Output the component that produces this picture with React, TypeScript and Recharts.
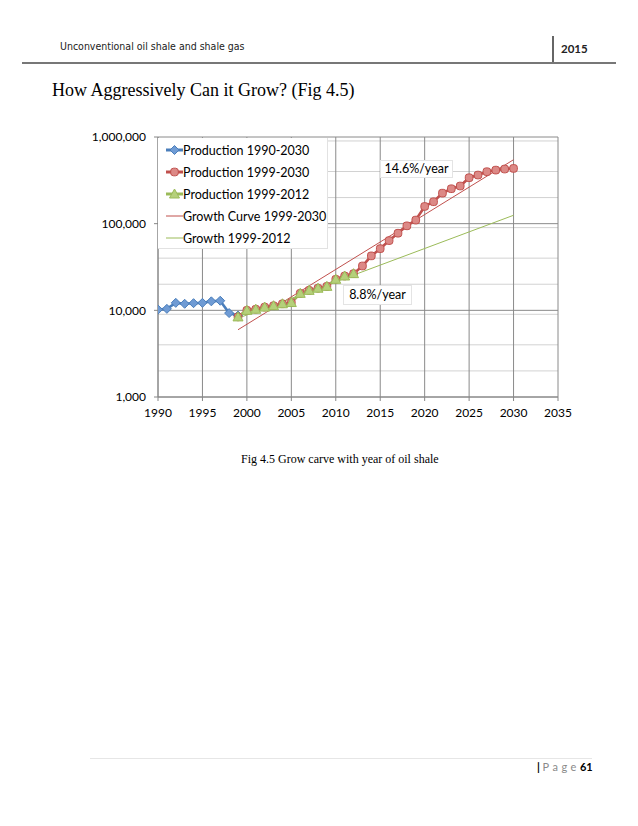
import { CartesianGrid, Line, LineChart, XAxis, YAxis } from 'recharts'

// tick values
const xTicks = [1990, 1995, 2000, 2005, 2010, 2015, 2020, 2025, 2030, 2035]
const yTicks = [1000, 10000, 100000, 1000000]
const yMinor = [
  2000, 3000, 4000, 5000, 6000, 7000, 8000, 9000,
  20000, 30000, 40000, 50000, 60000, 70000, 80000, 90000,
  200000, 300000, 400000, 500000, 600000, 700000, 800000, 900000,
]

// Production 1990-2030 (starts 1990)
const prodBlue = [10200, 10400, 12200, 11900, 12100, 12200, 12700, 12900, 9300, 8700]
// Production 1999-2030 (starts 1999)
const prodRed = [
  8400, 10000, 10300, 10900, 11300, 11900, 12300, 15700, 17000, 18000, 18900, 22800, 24900, 26500,
  32500, 42500, 51500, 63800, 77600, 94400, 110000, 158000, 179000, 225000, 253000, 272000,
  339000, 364000, 398000, 415000, 427000, 434000,
]
// Production 1999-2012 (starts 1999)
const prodGreen = [8400, 10000, 10300, 10900, 11300, 11900, 12300, 15700, 17000, 18000, 18900, 22800, 24900, 26500]
// fitted trend lines, end points
const curveRed = [
  { year: 1999, v: 5970 },
  { year: 2030, v: 547000 },
]
const growthGreen = [
  { year: 1999, v: 8100 },
  { year: 2030, v: 125000 },
]

const fromYear = (start: number, values: number[]) => values.map((v, i) => ({ year: start + i, v }))

const BLUE = '#4a7ebb'
const RED = '#c0504d'
const GREEN = '#9bbb59'
const FONT = 'Lato, "Open Sans", sans-serif'

const Diamond = ({ cx, cy, s = 4.5 }: { cx: number; cy: number; s?: number }) => (
  <path d={`M${cx},${cy - s}L${cx + s},${cy}L${cx},${cy + s}L${cx - s},${cy}Z`} fill="#6f9bd4" stroke={BLUE} strokeWidth={1} />
)
const Square = ({ cx, cy }: { cx: number; cy: number }) => (
  <rect x={cx - 3.8} y={cy - 3.8} width={7.6} height={7.6} rx={2.8} fill="#dc8986" stroke={RED} strokeWidth={1} />
)
const Triangle = ({ cx, cy }: { cx: number; cy: number }) => (
  <path d={`M${cx},${cy - 5}L${cx + 5},${cy + 4}L${cx - 5},${cy + 4}Z`} fill="#b5d07a" stroke={GREEN} strokeWidth={1} />
)

const dot = (Shape: any) => (p: any) =>
  p.cx == null ? <g key={`e${p.index}`} /> : <g key={`m${p.index}`}><Shape cx={p.cx} cy={p.cy} /></g>

const legendItems = [
  { name: 'Production 1990-2030', color: BLUE, width: 3, Mark: Diamond },
  { name: 'Production 1999-2030', color: RED, width: 3, Mark: Square },
  { name: 'Production 1999-2012', color: GREEN, width: 3, Mark: Triangle },
  { name: 'Growth Curve 1999-2030', color: RED, width: 1, Mark: null },
  { name: 'Growth 1999-2012', color: GREEN, width: 1, Mark: null },
]

const abs = (left: number, top: number, extra: any = {}) => ({ position: 'absolute' as const, left, top, ...extra })

export default function App() {
  return (
    <div style={{ position: 'absolute', left: 0, top: 0, width: 638, height: 826, background: '#fff', overflow: 'hidden' }}>
      {/* page header */}
      <div style={abs(60, 40, { fontFamily: '"Liberation Sans Narrow", "DejaVu Sans Condensed", sans-serif', fontSize: 10.5, color: '#222' })}>
        Unconventional oil shale and shale gas
      </div>
      <div style={abs(552, 36, { width: 2, height: 27, background: '#666' })} />
      <div style={abs(561, 42, { fontFamily: FONT, fontSize: 11.5, fontWeight: 700, color: '#222' })}>2015</div>
      <div style={abs(22, 62, { width: 594, height: 2, background: '#777' })} />

      <div style={abs(52, 80, { fontFamily: '"Liberation Serif", "Times New Roman", serif', fontSize: 18, color: '#000' })}>
        How Aggressively Can it Grow? (Fig 4.5)
      </div>

      <div style={abs(0, 120)}>
        <LineChart width={600} height={310} margin={{ top: 17, right: 42, bottom: 3, left: 98 }}>
          <CartesianGrid horizontalValues={yMinor} vertical={false} stroke="#d2d2d2" strokeWidth={1} />
          <CartesianGrid horizontalValues={yTicks} verticalValues={xTicks} stroke="#8a8a8a" strokeWidth={1} />
          <XAxis
            dataKey="year"
            type="number"
            domain={[1990, 2035]}
            ticks={xTicks}
            allowDataOverflow
            height={30}
            tickSize={4}
            tickMargin={7}
            stroke="#868686"
            tick={{ fill: '#000', fontSize: 12, fontFamily: FONT }}
          />
          <YAxis
            type="number"
            scale="log"
            domain={[1000, 1000000]}
            ticks={yTicks}
            allowDataOverflow
            width={60}
            tickSize={4}
            tickMargin={8}
            stroke="#868686"
            tickFormatter={(v: number) => v.toLocaleString('en-US')}
            tick={{ fill: '#000', fontSize: 12, fontFamily: FONT }}
          />
          <Line data={fromYear(1990, prodBlue)} dataKey="v" stroke={BLUE} strokeWidth={2.6} dot={dot(Diamond)} isAnimationActive={false} />
          <Line data={fromYear(1999, prodRed)} dataKey="v" stroke={RED} strokeWidth={2.6} dot={dot(Square)} isAnimationActive={false} />
          <Line data={fromYear(1999, prodGreen)} dataKey="v" stroke={GREEN} strokeWidth={2.6} dot={dot(Triangle)} isAnimationActive={false} />
          <Line data={curveRed} dataKey="v" stroke={RED} strokeWidth={1} dot={false} isAnimationActive={false} />
          <Line data={growthGreen} dataKey="v" stroke={GREEN} strokeWidth={1} dot={false} isAnimationActive={false} />
        </LineChart>
      </div>

      {/* legend */}
      <div style={abs(158, 138, { width: 169, height: 110, background: '#fff', borderRight: '1px solid #e2e2e2', borderBottom: '1px solid #e2e2e2', fontFamily: FONT, fontSize: 12.5, color: '#000' })}>
        {legendItems.map((it, i) => (
          <div key={it.name} style={abs(0, 3 + i * 22, { display: 'flex', alignItems: 'center', height: 18, whiteSpace: 'nowrap' })}>
            <svg width={25} height={18} style={{ display: 'block' }}>
              <line x1={8} x2={25} y1={9} y2={9} stroke={it.color} strokeWidth={it.width} />
              {it.Mark ? <it.Mark cx={16.5} cy={9} /> : null}
            </svg>
            <span>{it.name}</span>
          </div>
        ))}
      </div>

      {/* annotations */}
      <div style={abs(380, 160, { width: 73, height: 18, background: '#fff', border: '1px solid #e4e4e4', boxSizing: 'border-box', fontFamily: FONT, fontSize: 12.5, textAlign: 'center', lineHeight: '16px' })}>
        14.6%/year
      </div>
      <div style={abs(343, 285, { width: 69, height: 20, background: '#fff', border: '1px solid #e4e4e4', boxSizing: 'border-box', fontFamily: FONT, fontSize: 12.5, textAlign: 'center', lineHeight: '18px' })}>
        8.8%/year
      </div>

      <div style={abs(241, 452, { fontFamily: '"Liberation Serif", "Times New Roman", serif', fontSize: 12, color: '#000' })}>
        Fig 4.5 Grow carve with year of oil shale
      </div>

      {/* footer */}
      <div style={abs(90, 758, { width: 502, height: 1, background: '#e6e6e6' })} />
      <div style={abs(537, 760, { fontFamily: FONT, fontSize: 11, whiteSpace: 'nowrap' })}>
        <span style={{ fontWeight: 700, color: '#000' }}>| </span>
        <span style={{ color: '#8a8a8a', letterSpacing: 3.5 }}>Page</span>
        <span style={{ fontWeight: 700, color: '#000' }}>61</span>
      </div>
    </div>
  )
}
